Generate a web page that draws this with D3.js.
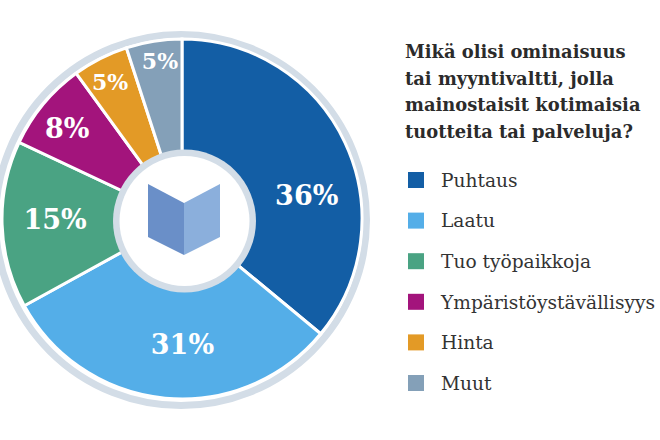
<!DOCTYPE html>
<html><head><meta charset="utf-8">
<script src="https://cdn.jsdelivr.net/npm/d3@7"></script>
<style>html,body{margin:0;padding:0;background:#fff;overflow:hidden}svg{display:block}</style></head>
<body><svg id="c" width="660" height="440"></svg>
<script>
const categories=["Puhtaus","Laatu","Tuo työpaikkoja","Ympäristöystävällisyys","Hinta","Muut"];
const values=[36,31,15,8,5,5];
const colors=["#135ea5","#54aee8","#4aa383","#a3147c","#e39a26","#84a0b8"];
const titleLines=["Mikä olisi ominaisuus","tai myyntivaltti, jolla","mainostaisit kotimaisia","tuotteita tai palveluja?"];
const labelRadius=[126,125,128,147,155,160];
const labelFraction=[0.61,0.454,0.533,0.444,0.44,0.54];
const labelSize=[27,27,27,27,22,22];
const FONT='"DejaVu Serif",serif';
const RING="#d3dde7";
const svg=d3.select("#c");
const cx=182,cy=219;
const g=svg.append("g").attr("transform",`translate(${cx},${cy})`);
g.append("circle").attr("cx",-1).attr("cy",1).attr("r",185.5).attr("fill","none").attr("stroke",RING).attr("stroke-width",7);
const pie=d3.pie().sort(null).value(d=>d)(values);
const arc=d3.arc().innerRadius(0).outerRadius(180);
g.selectAll("path.s").data(pie).join("path").attr("class","s").attr("d",arc)
 .attr("fill",(d,i)=>colors[i]).attr("stroke","#fff").attr("stroke-width",3);
g.append("circle").attr("cx",2.5).attr("cy",2).attr("r",71.5).attr("fill",RING);
g.append("circle").attr("cx",2.5).attr("cy",2).attr("r",65).attr("fill","#fff");
g.selectAll("text.p").data(pie).join("text").attr("class","p")
 .attr("transform",(d,i)=>{
   const a=d.startAngle+(d.endAngle-d.startAngle)*labelFraction[i];
   return `translate(${1+labelRadius[i]*Math.sin(a)},${-labelRadius[i]*Math.cos(a)})`;})
 .attr("text-anchor","middle").attr("dy","0.36em").attr("fill","#fff")
 .attr("font-family",FONT).attr("font-weight","bold")
 .attr("font-size",(d,i)=>labelSize[i])
 .text(d=>d.value+"%");
// book icon
const book=[[[-36,-35],[0,-16],[0,36],[-36,18]],[[0,-16],[36,-35],[36,18],[0,36]]];
const line=d3.line();
const ig=g.append("g").attr("transform","translate(2,0)");
ig.selectAll("path").data(book).join("path").attr("d",d=>line(d)+"Z").attr("fill",(d,i)=>i?"#8bafdc":"#6a8fc8");
// title
svg.append("text").attr("font-family",FONT).attr("font-weight","bold").attr("font-size",17.9).attr("fill","#2b2b2b")
 .selectAll("tspan").data(titleLines).join("tspan").attr("x",405).attr("y",(d,i)=>58+i*26.5).text(d=>d);
// legend
const y=d3.scalePoint().domain(categories).range([180,383]);
const lg=svg.selectAll("g.l").data(categories).join("g").attr("class","l").attr("transform",d=>`translate(408,${y(d)})`);
lg.append("rect").attr("x",0).attr("y",-8).attr("width",16).attr("height",16).attr("fill",(d,i)=>colors[i]);
lg.append("text").attr("x",33).attr("dy","0.36em").attr("font-family",FONT).attr("font-size",18.6).attr("fill","#333").text(d=>d);
</script></body></html>
